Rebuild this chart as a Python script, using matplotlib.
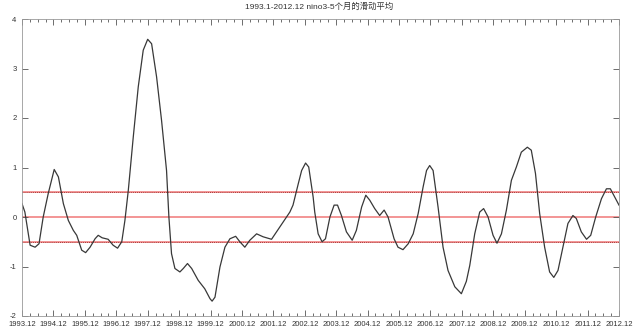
import matplotlib
matplotlib.use("Agg")
import matplotlib.pyplot as plt
from matplotlib.ticker import MultipleLocator
import numpy as np

plt.rcParams['font.family'] = ['Liberation Sans', 'Noto Sans CJK SC', 'DejaVu Sans']

title = "1993.1-2012.12 nino3-5个月的滑动平均"

# month index (12 = 1993.12 ... 240 = 2012.12) and 5-month running mean values
months = [12.0, 13.1, 15.1, 17.0, 18.5, 20.1, 22.0, 24.3, 25.9, 27.8, 29.7, 31.6,
          32.9, 34.8, 36.3, 38.0, 39.9, 41.1, 42.6, 44.9, 46.8, 48.5, 50.1, 51.3,
          52.6, 54.5, 56.4, 58.3, 60.0, 61.5, 63.4, 65.3, 67.2, 68.1, 69.1, 70.4,
          72.3, 73.6, 75.2, 76.8, 79.3, 81.8, 83.8, 84.6, 85.7, 87.6, 89.5, 91.4,
          93.6, 95.2, 97.1, 99.0, 101.6, 104.1, 107.3, 110.5, 114.3, 115.5, 117.5,
          118.8, 120.3, 121.5, 123.2, 123.8, 125.1, 126.6, 127.9, 129.6, 131.2,
          132.5, 134.0, 135.9, 138.1, 139.7, 141.7, 143.3, 144.8, 146.7, 148.6,
          150.3, 151.8, 154.1, 155.6, 157.5, 159.5, 161.4, 163.3, 165.2, 166.5,
          167.7, 169.0, 170.9, 172.8, 174.7, 177.3, 179.8, 181.7, 183.0, 184.9,
          186.8, 188.3, 190.0, 191.9, 193.4, 195.1, 197.0, 198.9, 200.8, 202.7,
          205.0, 206.5, 208.1, 209.7, 211.6, 213.5, 215.1, 216.7, 218.6, 220.5,
          222.4, 223.7, 225.6, 227.6, 229.2, 231.1, 233.3, 235.2, 236.7, 238.4, 240.0]
values = [0.27, 0.10, -0.57, -0.61, -0.54, 0.00, 0.47, 0.96, 0.81, 0.27, -0.07, -0.27,
          -0.37, -0.67, -0.72, -0.61, -0.44, -0.37, -0.42, -0.45, -0.57, -0.63, -0.50, -0.07,
          0.54, 1.62, 2.63, 3.37, 3.59, 3.50, 2.83, 1.95, 0.94, 0.00, -0.74, -1.04,
          -1.11, -1.04, -0.94, -1.04, -1.28, -1.45, -1.65, -1.70, -1.62, -1.01, -0.61, -0.44,
          -0.39, -0.50, -0.61, -0.47, -0.34, -0.40, -0.45, -0.20, 0.10, 0.24, 0.67,
          0.94, 1.09, 1.01, 0.40, 0.10, -0.34, -0.50, -0.44, 0.00, 0.24,
          0.24, 0.03, -0.30, -0.47, -0.27, 0.20, 0.44, 0.34, 0.17, 0.03,
          0.14, 0.00, -0.44, -0.61, -0.66, -0.54, -0.34, 0.07, 0.61, 0.94,
          1.04, 0.94, 0.20, -0.61, -1.08, -1.41, -1.55, -1.30, -0.98, -0.34,
          0.10, 0.17, 0.00, -0.37, -0.53, -0.34, 0.14, 0.74, 1.01, 1.31,
          1.41, 1.35, 0.88, 0.07, -0.61, -1.11, -1.22, -1.08, -0.61, -0.13,
          0.03, -0.03, -0.30, -0.45, -0.37, 0.00, 0.37, 0.57, 0.57, 0.40, 0.24]

tick_months = list(range(12, 241, 12))
tick_labels = [f"{y}.12" for y in range(1993, 2013)]
y_ticks = [-2, -1, 0, 1, 2, 3, 4]
thresholds = [0.5, -0.5]

fig = plt.figure(figsize=(6.38, 3.31), dpi=100)
ax = fig.add_axes([22/638, 1-316/331, (619-22)/638, (316-19)/331])

ax.axhline(0, color='#f07878', lw=1.1, zorder=1)
for t in thresholds:
    ax.axhline(t, color='#f07878', lw=1.1, zorder=1)
    ax.axhline(t, color='#902020', lw=0.6, ls=(0, (1, 1.5)), zorder=1.5)

ax.plot(months, values, color='#383838', lw=0.9, zorder=2,
        solid_joinstyle='round')

ax.set_xlim(12, 240)
ax.set_ylim(-2, 4)
ax.set_xticks(tick_months)
ax.set_xticklabels(tick_labels)
ax.xaxis.set_minor_locator(MultipleLocator(3))
ax.set_yticks(y_ticks)
ax.set_yticklabels([str(v) for v in y_ticks])

ax.tick_params(axis='both', which='both', direction='in', top=True, right=True,
               colors='#555555', labelcolor='#333333', labelsize=5.5, width=0.6)
ax.tick_params(axis='both', which='major', length=4)
ax.tick_params(axis='x', which='major', pad=3.5)
ax.tick_params(axis='y', which='major', pad=4)
ax.tick_params(axis='both', which='minor', length=2)
ax.tick_params(axis='y', which='minor', left=False, right=False)
for s in ax.spines.values():
    s.set_color('#999999')
    s.set_linewidth(0.6)

fig.text(0.5, 1-7/331, title, ha='center', va='center', fontsize=6, color='#333333')

fig.savefig("out.png", dpi=100)
